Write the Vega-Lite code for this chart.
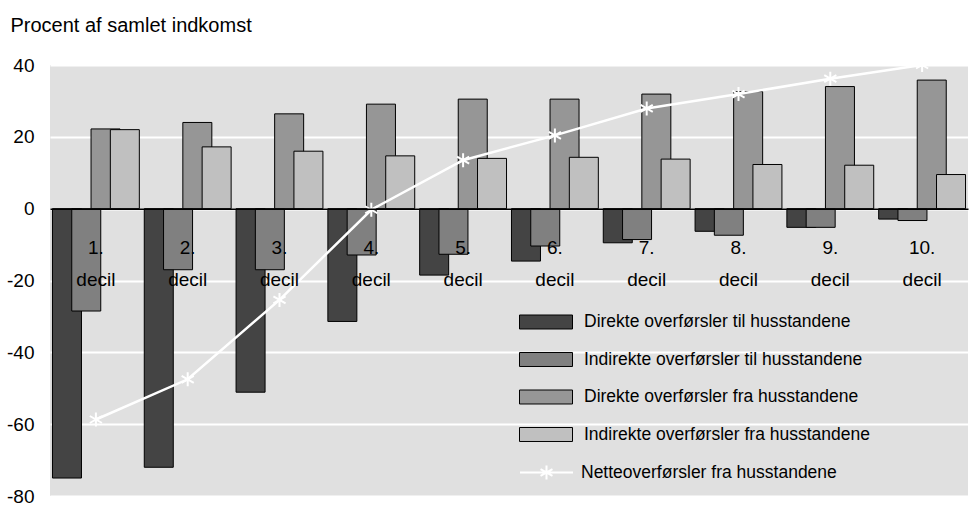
{
  "$schema": "https://vega.github.io/schema/vega-lite/v6.json",
  "autosize": "none",
  "width": 918,
  "height": 431,
  "padding": {"left": 50, "top": 65, "right": 3, "bottom": 14},
  "background": "white",
  "config": {
    "view": {"fill": "#e0e0e0", "stroke": null},
    "font": "Liberation Sans"
  },
  "datasets": {
    "bars": [
      {"decil": "1. decil", "serie": "Direkte overførsler til husstandene", "v": -75.0},
      {"decil": "2. decil", "serie": "Direkte overførsler til husstandene", "v": -72.0},
      {"decil": "3. decil", "serie": "Direkte overførsler til husstandene", "v": -51.1},
      {"decil": "4. decil", "serie": "Direkte overførsler til husstandene", "v": -31.4},
      {"decil": "5. decil", "serie": "Direkte overførsler til husstandene", "v": -18.5},
      {"decil": "6. decil", "serie": "Direkte overførsler til husstandene", "v": -14.6},
      {"decil": "7. decil", "serie": "Direkte overførsler til husstandene", "v": -9.5},
      {"decil": "8. decil", "serie": "Direkte overførsler til husstandene", "v": -6.3},
      {"decil": "9. decil", "serie": "Direkte overførsler til husstandene", "v": -5.2},
      {"decil": "10. decil", "serie": "Direkte overførsler til husstandene", "v": -2.9},
      {"decil": "1. decil", "serie": "Indirekte overførsler til husstandene", "v": -28.5},
      {"decil": "2. decil", "serie": "Indirekte overførsler til husstandene", "v": -17.0},
      {"decil": "3. decil", "serie": "Indirekte overførsler til husstandene", "v": -17.0},
      {"decil": "4. decil", "serie": "Indirekte overførsler til husstandene", "v": -12.9},
      {"decil": "5. decil", "serie": "Indirekte overførsler til husstandene", "v": -12.7},
      {"decil": "6. decil", "serie": "Indirekte overførsler til husstandene", "v": -10.4},
      {"decil": "7. decil", "serie": "Indirekte overførsler til husstandene", "v": -8.6},
      {"decil": "8. decil", "serie": "Indirekte overførsler til husstandene", "v": -7.4},
      {"decil": "9. decil", "serie": "Indirekte overførsler til husstandene", "v": -5.2},
      {"decil": "10. decil", "serie": "Indirekte overførsler til husstandene", "v": -3.3},
      {"decil": "1. decil", "serie": "Direkte overførsler fra husstandene", "v": 22.2},
      {"decil": "2. decil", "serie": "Direkte overførsler fra husstandene", "v": 24.0},
      {"decil": "3. decil", "serie": "Direkte overførsler fra husstandene", "v": 26.4},
      {"decil": "4. decil", "serie": "Direkte overførsler fra husstandene", "v": 29.1},
      {"decil": "5. decil", "serie": "Direkte overførsler fra husstandene", "v": 30.5},
      {"decil": "6. decil", "serie": "Direkte overførsler fra husstandene", "v": 30.5},
      {"decil": "7. decil", "serie": "Direkte overførsler fra husstandene", "v": 31.9},
      {"decil": "8. decil", "serie": "Direkte overførsler fra husstandene", "v": 32.6},
      {"decil": "9. decil", "serie": "Direkte overførsler fra husstandene", "v": 34.0},
      {"decil": "10. decil", "serie": "Direkte overførsler fra husstandene", "v": 35.8},
      {"decil": "1. decil", "serie": "Indirekte overførsler fra husstandene", "v": 22.0},
      {"decil": "2. decil", "serie": "Indirekte overførsler fra husstandene", "v": 17.2},
      {"decil": "3. decil", "serie": "Indirekte overførsler fra husstandene", "v": 16.0},
      {"decil": "4. decil", "serie": "Indirekte overførsler fra husstandene", "v": 14.7},
      {"decil": "5. decil", "serie": "Indirekte overførsler fra husstandene", "v": 14.0},
      {"decil": "6. decil", "serie": "Indirekte overførsler fra husstandene", "v": 14.3},
      {"decil": "7. decil", "serie": "Indirekte overførsler fra husstandene", "v": 13.8},
      {"decil": "8. decil", "serie": "Indirekte overførsler fra husstandene", "v": 12.3},
      {"decil": "9. decil", "serie": "Indirekte overførsler fra husstandene", "v": 12.1},
      {"decil": "10. decil", "serie": "Indirekte overførsler fra husstandene", "v": 9.5}
    ],
    "net": [
      {"decil": "1. decil", "serie": "Netteoverførsler fra husstandene", "v": -58.7},
      {"decil": "2. decil", "serie": "Netteoverførsler fra husstandene", "v": -47.5},
      {"decil": "3. decil", "serie": "Netteoverførsler fra husstandene", "v": -25.4},
      {"decil": "4. decil", "serie": "Netteoverførsler fra husstandene", "v": -0.3},
      {"decil": "5. decil", "serie": "Netteoverførsler fra husstandene", "v": 13.5},
      {"decil": "6. decil", "serie": "Netteoverførsler fra husstandene", "v": 20.4},
      {"decil": "7. decil", "serie": "Netteoverførsler fra husstandene", "v": 27.9},
      {"decil": "8. decil", "serie": "Netteoverførsler fra husstandene", "v": 31.9},
      {"decil": "9. decil", "serie": "Netteoverførsler fra husstandene", "v": 36.2},
      {"decil": "10. decil", "serie": "Netteoverførsler fra husstandene", "v": 40.0}
    ]
  },
  "encoding": {
    "x": {
      "field": "decil",
      "type": "nominal",
      "sort": null,
      "scale": {"paddingInner": 0, "paddingOuter": 0},
      "axis": {
        "title": null,
        "orient": "bottom",
        "offset": -287.3,
        "zindex": 1,
        "domainColor": "black",
        "domainWidth": 1.5,
        "ticks": false,
        "labelAngle": 0,
        "labelFont": "Liberation Sans",
        "labelFontSize": 19,
        "labelColor": "black",
        "labelPadding": 30,
        "labelLineHeight": 32,
        "labelBaseline": "top",
        "labelExpr": "split(datum.value, ' ')"
      }
    },
    "y": {
      "field": "v",
      "type": "quantitative",
      "scale": {"domain": [-80, 40], "nice": false, "zero": false},
      "axis": {
        "values": [-80, -60, -40, -20, 0, 20, 40],
        "labelExpr": "toString(datum.value)",
        "title": "Procent af samlet indkomst",
        "titleAngle": 0,
        "titleAlign": "left",
        "titleBaseline": "alphabetic",
        "titleX": -40,
        "titleY": -34,
        "titleFont": "Liberation Sans",
        "titleFontSize": 20,
        "titleFontWeight": "normal",
        "titleColor": "black",
        "domain": false,
        "ticks": false,
        "grid": true,
        "gridColor": "white",
        "gridWidth": 2,
        "labelFont": "Liberation Sans",
        "labelFontSize": 19,
        "labelColor": "black",
        "labelPadding": 16
      }
    }
  },
  "layer": [
    {
      "data": {"name": "bars"},
      "mark": {"type": "bar", "stroke": "black", "strokeWidth": 1, "width": 29},
      "encoding": {
        "xOffset": {
          "field": "serie",
          "type": "nominal",
          "sort": null,
          "scale": {"paddingInner": 0, "paddingOuter": 0.38}
        },
        "fill": {
          "field": "serie",
          "type": "nominal",
          "sort": null,
          "scale": {
            "domain": [
              "Direkte overførsler til husstandene",
              "Indirekte overførsler til husstandene",
              "Direkte overførsler fra husstandene",
              "Indirekte overførsler fra husstandene"
            ],
            "range": ["#444444", "#808080", "#969696", "#c0c0c0"]
          },
          "legend": {
            "title": null,
            "orient": "none",
            "legendX": 469,
            "legendY": 230,
            "padding": 0,
            "symbolType": "M-1,-0.264H1V0.264H-1Z",
            "symbolSize": 2809,
            "symbolStrokeColor": "black",
            "symbolStrokeWidth": 1,
            "symbolOpacity": 1,
            "labelFont": "Liberation Sans",
            "labelFontSize": 17.5,
            "labelColor": "black",
            "labelOffset": 11,
            "labelLimit": 400,
            "rowPadding": 1.5
          }
        }
      }
    },
    {
      "data": {"name": "net"},
      "mark": {"type": "line", "color": "white", "strokeWidth": 2.5, "clip": true},
      "encoding": {
        "stroke": {
          "field": "serie",
          "type": "nominal",
          "scale": {"range": ["white"]},
          "legend": {
            "title": null,
            "orient": "none",
            "legendX": 469,
            "legendY": 380,
            "padding": 0,
            "symbolType": "M-1,0H1M0,-0.26V0.26M-0.225,-0.13L0.225,0.13M-0.225,0.13L0.225,-0.13",
            "symbolSize": 2809,
            "symbolStrokeColor": "white",
            "symbolStrokeWidth": 2,
            "labelFont": "Liberation Sans",
            "labelFontSize": 17.5,
            "labelColor": "black",
            "labelOffset": 7,
            "labelLimit": 400
          }
        }
      }
    },
    {
      "data": {"name": "net"},
      "mark": {
        "type": "point",
        "shape": "M0,-1V1M-0.866,-0.5L0.866,0.5M-0.866,0.5L0.866,-0.5",
        "size": 196,
        "filled": false,
        "strokeWidth": 2,
        "opacity": 1,
        "clip": true
      },
      "encoding": {
        "stroke": {"field": "serie", "type": "nominal"}
      }
    }
  ]
}
